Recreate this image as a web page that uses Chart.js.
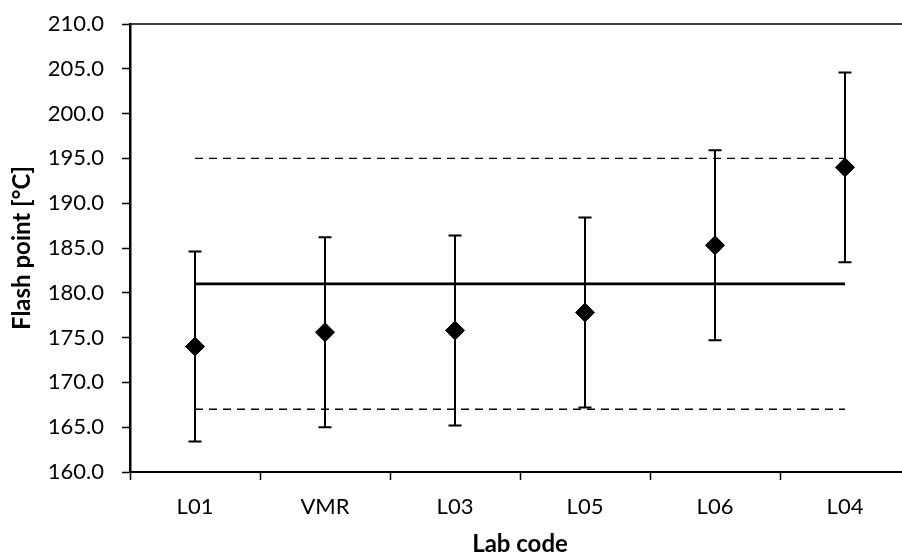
<!DOCTYPE html>
<html>
<head>
<meta charset="utf-8">
<script src="https://cdn.jsdelivr.net/npm/chart.js@4.4.1/dist/chart.umd.min.js"></script>
<style>
  html, body { margin: 0; padding: 0; background: #ffffff; overflow: hidden; }
  #wrap { width: 930px; height: 557px; }
</style>
</head>
<body>
<div id="wrap"><canvas id="c" width="930" height="557"></canvas></div>
<script>
// ---- data ----
const labCodes = ['L01', 'VMR', 'L03', 'L05', 'L06', 'L04'];
const flashPoints = [174.0, 175.6, 175.8, 177.8, 185.3, 194.0];
const uncertainties = [10.6, 10.6, 10.6, 10.6, 10.6, 10.6];
const assignedValue = 181.0;
const upperLimit = 195.0;
const lowerLimit = 167.0;
const yMin = 160, yMax = 210, yStep = 5;

const FONT = 'Lato, "Open Sans", "DejaVu Sans", sans-serif';

const repeat = v => labCodes.map(() => v);

const errorBarPlugin = {
  id: 'errorBars',
  beforeDatasetsDraw(chart) {
    const ctx = chart.ctx;
    const xs = chart.scales.x, ys = chart.scales.y;
    ctx.save();
    ctx.strokeStyle = '#000';
    ctx.lineWidth = 2;
    const cap = 6.5;
    labCodes.forEach((lab, i) => {
      const x = xs.getPixelForValue(i);
      const yHi = ys.getPixelForValue(flashPoints[i] + uncertainties[i]);
      const yLo = ys.getPixelForValue(flashPoints[i] - uncertainties[i]);
      ctx.beginPath();
      ctx.moveTo(x, yHi); ctx.lineTo(x, yLo);
      ctx.moveTo(x - cap, yHi); ctx.lineTo(x + cap, yHi);
      ctx.moveTo(x - cap, yLo); ctx.lineTo(x + cap, yLo);
      ctx.stroke();
    });
    ctx.restore();
  },
  afterDraw(chart) {
    const {ctx, chartArea} = chart;
    ctx.save();
    ctx.strokeStyle = '#000';
    ctx.lineWidth = 1.3;
    ctx.beginPath();
    ctx.moveTo(chartArea.left, chartArea.top);
    ctx.lineTo(chartArea.right, chartArea.top);
    ctx.lineTo(chartArea.right, chartArea.bottom);
    ctx.stroke();
    ctx.restore();
  }
};

new Chart(document.getElementById('c'), {
  type: 'line',
  data: {
    labels: labCodes,
    datasets: [
      {
        label: 'Flash point',
        data: flashPoints,
        showLine: false,
        pointStyle: 'rectRot',
        pointRadius: 9.5,
        pointHoverRadius: 9.5,
        backgroundColor: '#000',
        borderColor: '#000',
        borderWidth: 1,
        order: 0
      },
      {
        label: 'Assigned value',
        data: repeat(assignedValue),
        borderColor: '#000',
        borderWidth: 2.6,
        pointRadius: 0,
        fill: false,
        order: 1
      },
      {
        label: 'Upper limit',
        data: repeat(upperLimit),
        borderColor: '#000',
        borderWidth: 1.4,
        borderDash: [8, 6],
        pointRadius: 0,
        fill: false,
        order: 2
      },
      {
        label: 'Lower limit',
        data: repeat(lowerLimit),
        borderColor: '#000',
        borderWidth: 1.4,
        borderDash: [8, 6],
        pointRadius: 0,
        fill: false,
        order: 3
      }
    ]
  },
  options: {
    responsive: false,
    animation: false,
    devicePixelRatio: 1,
    layout: { padding: { left: 0, right: 20, top: 24, bottom: 0 } },
    plugins: { legend: { display: false }, tooltip: { enabled: false } },
    scales: {
      x: {
        type: 'category',
        offset: true,
        afterFit(scale) { scale.height = 85; },
        grid: {
          offset: true,
          drawOnChartArea: false,
          drawTicks: true,
          tickLength: 8,
          tickWidth: 1.5,
          tickColor: '#000'
        },
        border: { display: true, color: '#000', width: 2 },
        ticks: {
          color: '#000',
          font: { family: FONT, size: 22 },
          padding: 14,
          maxRotation: 0
        },
        title: {
          display: true,
          text: 'Lab code',
          color: '#000',
          font: { family: FONT, size: 24, weight: 'bold', lineHeight: 1 },
          padding: { top: 0, bottom: 1 }
        }
      },
      y: {
        type: 'linear',
        min: yMin,
        max: yMax,
        afterFit(scale) {
          scale.width = 130;
          scale.paddingTop = 0;
          scale.paddingBottom = 0;
        },
        grid: {
          drawOnChartArea: false,
          drawTicks: true,
          tickLength: 8,
          tickWidth: 1.5,
          tickColor: '#000'
        },
        border: { display: true, color: '#000', width: 2.5 },
        ticks: {
          stepSize: yStep,
          color: '#000',
          font: { family: FONT, size: 22 },
          padding: 18,
          callback: v => Number(v).toFixed(1)
        },
        title: {
          display: true,
          text: 'Flash point [°C]',
          color: '#000',
          font: { family: FONT, size: 24, weight: 'bold', lineHeight: 1 },
          padding: { top: 10.5, bottom: 0 }
        }
      }
    }
  },
  plugins: [errorBarPlugin]
});
</script>
</body>
</html>
